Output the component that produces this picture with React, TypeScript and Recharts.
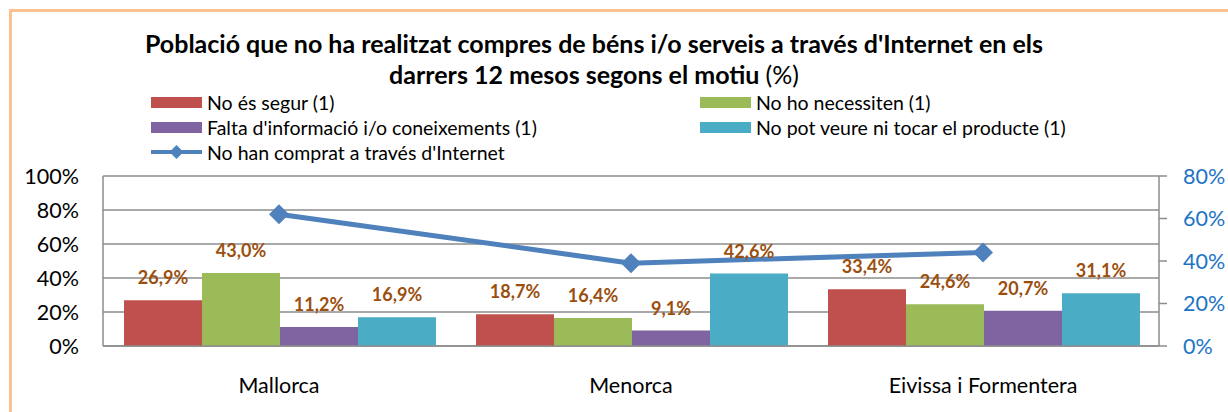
import React from "react";
import {
  ComposedChart, Bar, Line, XAxis, YAxis, CartesianGrid, LabelList,
} from "recharts";

const islands = ["Mallorca", "Menorca", "Eivissa i Formentera"];
const noSegur = [26.9, 18.7, 33.4];
const noNecessiten = [43.0, 16.4, 24.6];
const faltaInfo = [11.2, 9.1, 20.7];
const noPotVeure = [16.9, 42.6, 31.1];
const noComprat = [62, 39, 44];

const leftTicks = [0, 20, 40, 60, 80, 100];
const rightTicks = [0, 20, 40, 60, 80];

const data = islands.map((name, i) => ({
  name,
  noSegur: noSegur[i],
  noNecessiten: noNecessiten[i],
  faltaInfo: faltaInfo[i],
  noPotVeure: noPotVeure[i],
  noComprat: noComprat[i],
}));

const FONT = "Lato, 'Open Sans', sans-serif";
const LABEL_COLOR = "#9B4F0F";
const GRID = "#8C8C8C";

const bars = [
  { key: "noSegur", name: "No és segur (1)", color: "#C0504D" },
  { key: "noNecessiten", name: "No ho necessiten (1)", color: "#9BBB59" },
  { key: "faltaInfo", name: "Falta d'informació i/o coneixements (1)", color: "#8064A2" },
  { key: "noPotVeure", name: "No pot veure ni tocar el producte (1)", color: "#4BACC6" },
];

const fmt = (v: number) => `${v.toFixed(1).replace(".", ",")}%`;

const Diamond = (props: any) => {
  const { cx, cy } = props;
  if (cx == null || cy == null) return null;
  const r = 10;
  return (
    <path
      d={`M${cx},${cy - r} L${cx + r},${cy} L${cx},${cy + r} L${cx - r},${cy} Z`}
      fill="#4F81BD"
    />
  );
};

// legend drawn by hand so it doesn't eat into the plot area
const LegendBox = () => {
  const swatch = (c: string) => (
    <span style={{ display: "inline-block", width: 51, height: 11, background: c, marginRight: 5 }} />
  );
  const row: React.CSSProperties = {
    position: "absolute", display: "flex", alignItems: "center", height: 24,
    fontSize: 19.5, whiteSpace: "nowrap",
  };
  return (
    <div style={{ position: "absolute", left: 151, top: 90, width: 1000, height: 80, fontFamily: FONT, color: "#000" }}>
      <div style={{ ...row, left: 0, top: 0 }}>{swatch(bars[0].color)}{bars[0].name}</div>
      <div style={{ ...row, left: 549, top: 0 }}>{swatch(bars[1].color)}{bars[1].name}</div>
      <div style={{ ...row, left: 0, top: 25 }}>{swatch(bars[2].color)}{bars[2].name}</div>
      <div style={{ ...row, left: 549, top: 25 }}>{swatch(bars[3].color)}{bars[3].name}</div>
      <div style={{ ...row, left: 0, top: 50 }}>
        <svg width={51} height={20} style={{ marginRight: 5 }}>
          <line x1={0} y1={10} x2={51} y2={10} stroke="#4F81BD" strokeWidth={4} />
          <path d="M25.5,3 L32.5,10 L25.5,17 L18.5,10 Z" fill="#4F81BD" />
        </svg>
        No han comprat a través d'Internet
      </div>
    </div>
  );
};

export default function App() {
  return (
    <div style={{ position: "absolute", left: 0, top: 0, width: 1228, height: 412, background: "#fff", fontFamily: FONT }}>
      <div style={{ position: "absolute", left: 9, top: 9, right: 0, bottom: 0, borderLeft: "3px solid #FAC090", borderTop: "3px solid #FAC090" }} />
      <div
        style={{
          position: "absolute", left: 0, top: 28, width: 1188, textAlign: "center",
          fontSize: 25, lineHeight: "31px", color: "#000", fontWeight: 700,
        }}
      >
        Població que no ha realitzat compres de béns i/o serveis a través d'Internet en els
        <br />
        darrers 12 mesos segons el motiu <span style={{ fontWeight: 400 }}>(%)</span>
      </div>
      <LegendBox />
      <ComposedChart
        width={1228}
        height={412}
        data={data}
        margin={{ top: 176, right: 0, left: 0, bottom: 0 }}
        barGap={0}
        barCategoryGap={21}
        style={{ position: "absolute", left: 0, top: 0 }}
      >
        <CartesianGrid yAxisId="left" vertical={false} stroke={GRID} strokeWidth={1.5} />
        <XAxis
          dataKey="name"
          height={66}
          axisLine={{ stroke: GRID, strokeWidth: 1.5 }}
          tickLine={false}
          tickSize={0}
          tickMargin={32}
          tick={{ fontSize: 21.5, fill: "#000", fontFamily: FONT }}
        />
        <YAxis
          yAxisId="left"
          width={103}
          domain={[0, 100]}
          ticks={leftTicks}
          interval={0}
          tickFormatter={(v) => `${v}%`}
          axisLine={{ stroke: GRID, strokeWidth: 1.5 }}
          tickLine={false}
          tickSize={0}
          tickMargin={24}
          tick={{ fontSize: 21.5, fill: "#000", fontFamily: FONT }}
        />
        <YAxis
          yAxisId="right"
          orientation="right"
          width={69}
          domain={[0, 80]}
          ticks={rightTicks}
          interval={0}
          tickFormatter={(v) => `${v}%`}
          axisLine={{ stroke: GRID, strokeWidth: 1.5 }}
          tickLine={{ stroke: GRID, strokeWidth: 1.5 }}
          tickSize={8}
          tickMargin={16}
          tick={{ fontSize: 21.5, fill: "#1D74C5", fontFamily: FONT }}
        />
        {bars.map((b) => (
          <Bar key={b.key} yAxisId="left" dataKey={b.key} name={b.name} fill={b.color} isAnimationActive={false}>
            <LabelList
              dataKey={b.key}
              position="top"
              offset={16}
              formatter={(v: any) => fmt(Number(v))}
              style={{ fill: LABEL_COLOR, fontWeight: 700, fontSize: 18, fontFamily: FONT }}
            />
          </Bar>
        ))}
        <Line
          yAxisId="right"
          dataKey="noComprat"
          name="No han comprat a través d'Internet"
          stroke="#4F81BD"
          strokeWidth={5}
          dot={<Diamond />}
          activeDot={false}
          isAnimationActive={false}
        />
      </ComposedChart>
    </div>
  );
}
